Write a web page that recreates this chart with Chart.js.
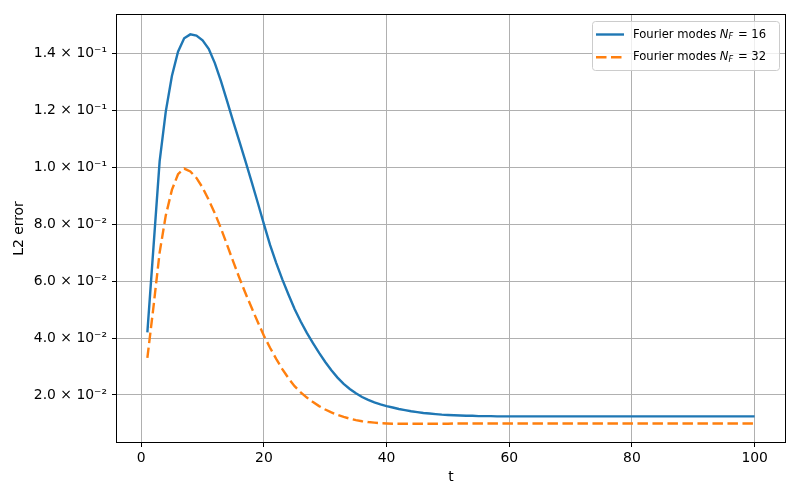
<!DOCTYPE html>
<html>
<head>
<meta charset="utf-8">
<script src="https://cdn.jsdelivr.net/npm/chart.js@4"></script>
<style>
  html, body { margin: 0; padding: 0; background: #fff; }
  #wrap { width: 800px; height: 500px; }
</style>
</head>
<body>
<div id="wrap"><canvas id="c" width="800" height="500"></canvas></div>
<script>
// ---- data ----
const tValues = [1,2,3,4,5,6,7,8,9,10,11,12,13,14,15,16,17,18,19,20,
  21,22,23,24,25,26,27,28,29,30,31,32,33,34,35,36,37,38,39,40,
  41,42,43,44,45,46,47,48,49,50,51,52,53,54,55,56,57,58,59,60,
  61,62,63,64,65,66,67,68,69,70,71,72,73,74,75,76,77,78,79,80,
  81,82,83,84,85,86,87,88,89,90,91,92,93,94,95,96,97,98,99,100];

const errorNF16 = [
  0.0420,0.0720,0.1020,0.1195,0.1320,0.1405,0.1452,0.1466,0.1462,0.1445,
  0.1415,0.1365,0.1302,0.1232,0.1160,0.1090,0.1020,0.0948,0.0875,0.0800,
  0.0727,0.0664,0.0606,0.0553,0.0502,0.0458,0.0418,0.0382,0.0348,0.0316,
  0.0287,0.0261,0.0239,0.0221,0.0206,0.0193,0.0183,0.0174,0.0167,0.0161,
  0.0156,0.0151,0.0147,0.0143,0.0140,0.0137,0.0135,0.0133,0.0131,0.0130,
  0.0129,0.0128,0.0127,0.0127,0.0126,0.0126,0.0126,0.0125,0.0125,0.0125,
  0.0125,0.0125,0.0125,0.0125,0.0125,0.0125,0.0125,0.0125,0.0125,0.0125,
  0.0125,0.0125,0.0125,0.0125,0.0125,0.0125,0.0125,0.0125,0.0125,0.0125,
  0.0125,0.0125,0.0125,0.0125,0.0125,0.0125,0.0125,0.0125,0.0125,0.0125,
  0.0125,0.0125,0.0125,0.0125,0.0125,0.0125,0.0125,0.0125,0.0125,0.0125];

const errorNF32 = [
  0.0330,0.0510,0.0700,0.0830,0.0920,0.0975,0.0995,0.0985,0.0962,0.0928,
  0.0885,0.0838,0.0785,0.0727,0.0668,0.0611,0.0557,0.0506,0.0456,0.0408,
  0.0366,0.0327,0.0291,0.0259,0.0231,0.0209,0.0191,0.0175,0.0161,0.0149,
  0.0139,0.0130,0.0123,0.0117,0.0112,0.0108,0.0105,0.0103,0.0101,0.0100,
  0.0099,0.0099,0.0099,0.0099,0.0099,0.0099,0.0099,0.0099,0.0099,0.0099,
  0.0100,0.0100,0.0100,0.0100,0.0100,0.0100,0.0100,0.0100,0.0100,0.0100,
  0.0100,0.0100,0.0100,0.0100,0.0100,0.0100,0.0100,0.0100,0.0100,0.0100,
  0.0100,0.0100,0.0100,0.0100,0.0100,0.0100,0.0100,0.0100,0.0100,0.0100,
  0.0100,0.0100,0.0100,0.0100,0.0100,0.0100,0.0100,0.0100,0.0100,0.0100,
  0.0100,0.0100,0.0100,0.0100,0.0100,0.0100,0.0100,0.0100,0.0100,0.0100];

const seriesNames = ["16", "32"];
const seriesColors = ["#1f77b4", "#ff7f0e"];
const xTickStep = 20;
const yTickStep = 0.02;
const xTitle = "t";
const yTitle = "L2 error";

// ---- helpers ----
const SUP = {"-":"\u207B","0":"\u2070","1":"\u00B9","2":"\u00B2","3":"\u00B3","4":"\u2074","5":"\u2075","6":"\u2076","7":"\u2077","8":"\u2078","9":"\u2079"};
function sciLabel(v) {
  if (Math.abs(v) < 1e-12) return "0";
  const e = Math.floor(Math.log10(Math.abs(v)) + 1e-9);
  const m = v / Math.pow(10, e);
  const sup = String(e).split("").map(c => SUP[c]).join("");
  return m.toFixed(1) + " \u00D7 10" + sup;
}

const FONT = '"DejaVu Sans", sans-serif';

const framePlugin = {
  id: 'frame',
  afterDatasetsDraw(chart) {
    const {ctx, chartArea: a} = chart;
    ctx.save();
    ctx.strokeStyle = '#000';
    ctx.lineWidth = 1;
    ctx.strokeRect(Math.round(a.left) - 0.5, Math.round(a.top) - 0.5,
                   Math.round(a.right - a.left) + 1, Math.round(a.bottom - a.top) + 1);
    ctx.restore();
  }
};

const legendPlugin = {
  id: 'mplLegend',
  afterDraw(chart) {
    const ctx = chart.ctx;
    const a = chart.chartArea;
    const fs = 11.6;
    const boxW = 187, boxH = 49;
    const bx = a.right - 6 - boxW + 0.5, by = a.top + 6 + 0.5;
    ctx.save();
    ctx.beginPath();
    if (ctx.roundRect) ctx.roundRect(bx, by, boxW, boxH, 3); else ctx.rect(bx, by, boxW, boxH);
    ctx.fillStyle = 'rgba(255,255,255,0.8)';
    ctx.fill();
    ctx.strokeStyle = '#cccccc';
    ctx.lineWidth = 1;
    ctx.stroke();
    chart.data.datasets.forEach((ds, i) => {
      const y = by + 13 + i * 22.7;
      ctx.beginPath();
      ctx.setLineDash(ds.borderDash || []);
      ctx.strokeStyle = ds.borderColor;
      ctx.lineWidth = ds.borderWidth;
      ctx.moveTo(bx + 3.5, y);
      ctx.lineTo(bx + 31.5, y);
      ctx.stroke();
      ctx.setLineDash([]);
      let x = bx + 40.5;
      ctx.fillStyle = '#000';
      ctx.textBaseline = 'middle';
      ctx.textAlign = 'left';
      ctx.font = fs + 'px ' + FONT;
      const t1 = 'Fourier modes ';
      ctx.fillText(t1, x, y); x += ctx.measureText(t1).width;
      ctx.font = 'italic ' + fs + 'px ' + FONT;
      ctx.fillText('N', x, y); x += ctx.measureText('N').width;
      ctx.font = 'italic ' + (fs * 0.7) + 'px ' + FONT;
      ctx.fillText('F', x, y + 2.8); x += ctx.measureText('F').width + 1;
      ctx.font = fs + 'px ' + FONT;
      const t2 = ' = ' + seriesNames[i];
      ctx.fillText(t2, x, y);
    });
    ctx.restore();
  }
};

const tickFont = { family: FONT, size: 13.9 };

new Chart(document.getElementById('c'), {
  type: 'line',
  data: {
    labels: tValues,
    datasets: [
      {
        label: 'Fourier modes N_F = ' + seriesNames[0],
        data: tValues.map((t, i) => ({x: t, y: errorNF16[i]})),
        borderColor: seriesColors[0],
        backgroundColor: seriesColors[0],
        borderWidth: 2.4,
        pointRadius: 0,
        tension: 0,
        fill: false
      },
      {
        label: 'Fourier modes N_F = ' + seriesNames[1],
        data: tValues.map((t, i) => ({x: t, y: errorNF32[i]})),
        borderColor: seriesColors[1],
        backgroundColor: seriesColors[1],
        borderWidth: 2.4,
        borderDash: [10.5, 4.5],
        pointRadius: 0,
        tension: 0,
        fill: false
      }
    ]
  },
  options: {
    responsive: false,
    animation: false,
    devicePixelRatio: 1,
    layout: { padding: { left: 0, top: 15, right: 15, bottom: 0 } },
    plugins: {
      legend: { display: false },
      tooltip: { enabled: false }
    },
    scales: {
      x: {
        type: 'linear',
        min: -3.95,
        max: 104.95,
        afterFit(scale) { scale.height = 58; },
        ticks: {
          stepSize: xTickStep,
          includeBounds: false,
          color: '#000',
          font: tickFont,
          padding: 3,
          maxRotation: 0,
          callback: v => String(Math.round(v))
        },
        grid: { color: '#b0b0b0', lineWidth: 1, tickColor: '#000', tickLength: 5 },
        border: { display: false },
        title: { display: true, text: xTitle, color: '#000', font: tickFont, padding: { top: 2, bottom: 14 } }
      },
      y: {
        type: 'linear',
        min: 0.0035,
        max: 0.1534,
        afterFit(scale) { scale.width = 117; },
        ticks: {
          stepSize: yTickStep,
          includeBounds: false,
          color: '#000',
          font: tickFont,
          padding: 5,
          callback: v => sciLabel(v)
        },
        grid: { color: '#b0b0b0', lineWidth: 1, tickColor: '#000', tickLength: 5 },
        border: { display: false },
        title: { display: true, text: yTitle, color: '#000', font: tickFont, padding: { top: 11.5, bottom: 0 } }
      }
    }
  },
  plugins: [framePlugin, legendPlugin]
});
</script>
</body>
</html>
